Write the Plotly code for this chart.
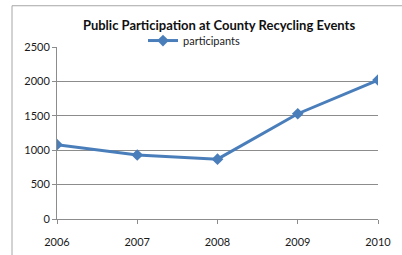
import plotly.graph_objects as go

years = ["2006", "2007", "2008", "2009", "2010"]
participants = [1080, 930, 870, 1530, 2020]
y_ticks = [0, 500, 1000, 1500, 2000, 2500]

W, H = 402, 255
L, R, T, B = 57, 24, 46.5, 35.5
pw, ph = W - L - R, H - T - B

def px(x):
    return (x - L) / pw

def py(y):
    return (H - B - y) / ph

fig = go.Figure()
fig.add_trace(go.Scatter(
    x=years, y=participants, mode="lines+markers", name="participants",
    line=dict(color="#4a7ebb", width=3),
    marker=dict(symbol="diamond", size=9, color="#4a7ebb"),
))

font = "Lato, 'Open Sans', sans-serif"
grey = "#8c8c8c"

fig.update_layout(
    width=W, height=H,
    margin=dict(l=L, r=R, t=T, b=B, autoexpand=False),
    paper_bgcolor="white", plot_bgcolor="white",
    font=dict(family=font, size=11, color="#1a1a1a"),
    title=dict(text="<b>Public Participation at County Recycling Events</b>",
               xref="container", x=219 / W, xanchor="center",
               y=1 - 25 / H, yanchor="middle",
               font=dict(size=13, color="#111")),
    showlegend=True,
    legend=dict(x=px(143), xanchor="left", y=py(40), yanchor="middle",
                bgcolor="rgba(0,0,0,0)", font=dict(size=11),
                itemwidth=30),
    xaxis=dict(type="category", range=[0, 4], showgrid=False,
               showline=True, linecolor=grey, linewidth=1,
               ticks="outside", ticklen=4, tickcolor=grey,
               tickfont=dict(size=11), zeroline=False,
               ticklabelstandoff=9, automargin=False),
    yaxis=dict(range=[0, 2500], tickvals=y_ticks, showgrid=True,
               gridcolor=grey, gridwidth=1, showline=True, linecolor=grey,
               ticks="outside", ticklen=4, tickcolor=grey,
               tickfont=dict(size=11), zeroline=False, automargin=False),
    shapes=[
        dict(type="line", xref="paper", yref="paper",
             x0=px(12), x1=px(12), y0=py(5), y1=py(260),
             line=dict(color="#a6a6a6", width=1)),
        dict(type="line", xref="paper", yref="paper",
             x0=px(12), x1=px(410), y0=py(5), y1=py(5),
             line=dict(color="#a6a6a6", width=1)),
    ],
)

fig.write_html("out.html", config={"displayModeBar": False},
               post_script="document.body.style.margin='0';")
